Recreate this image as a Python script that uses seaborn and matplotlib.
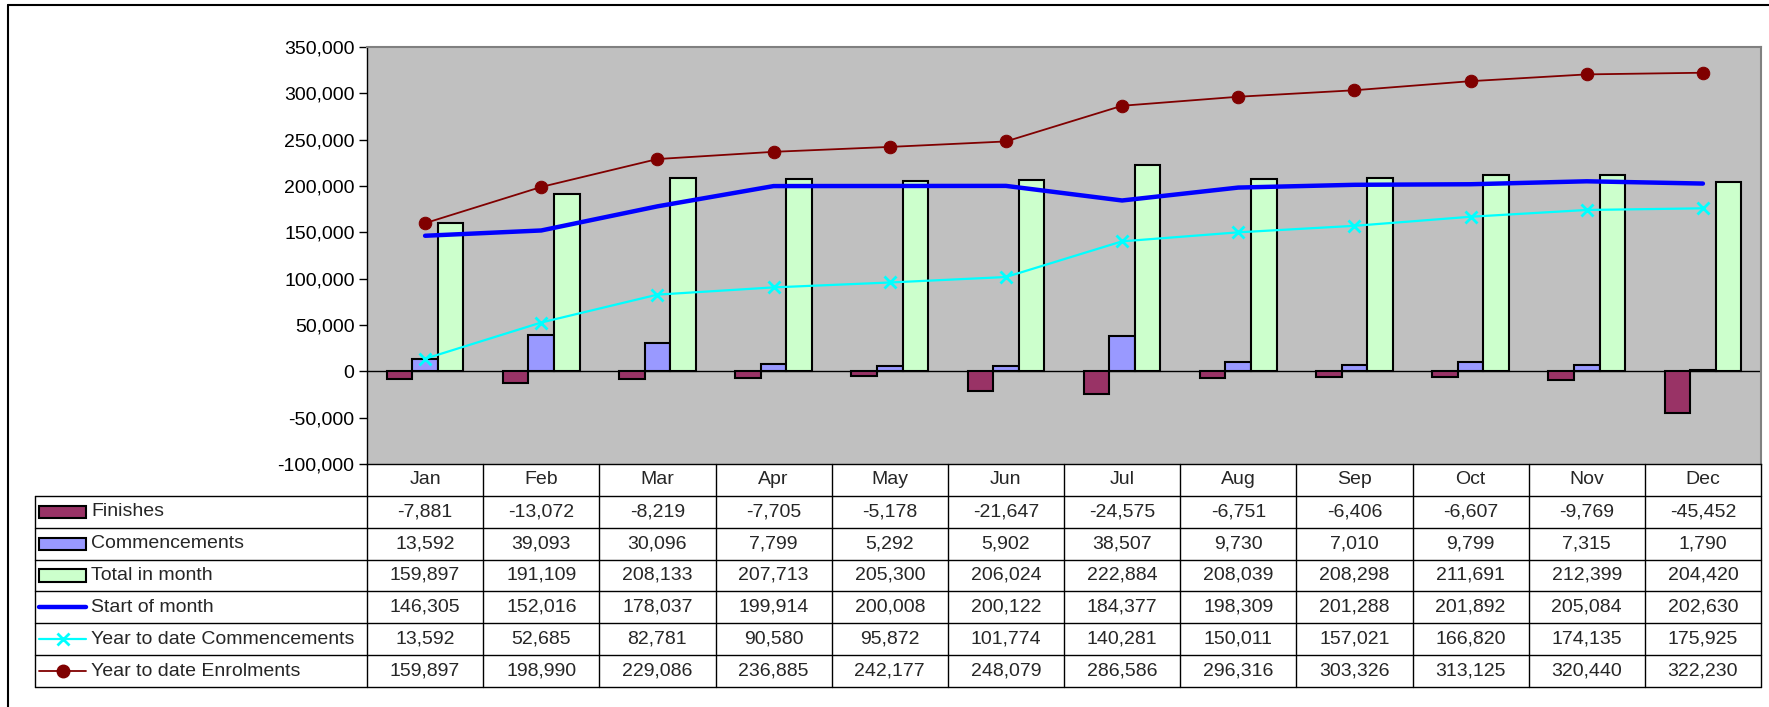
import matplotlib
matplotlib.use("Agg")
import matplotlib.pyplot as plt
import seaborn as sns
import numpy as np
import pandas as pd
from matplotlib.lines import Line2D
from matplotlib.patches import Rectangle
from matplotlib.ticker import FuncFormatter


# ------------------------------------------------
# DATA
# ------------------------------------------------

months = ["Jan", "Feb", "Mar", "Apr", "May", "Jun",
          "Jul", "Aug", "Sep", "Oct", "Nov", "Dec"]

finishes = [-7881, -13072, -8219, -7705, -5178, -21647,
            -24575, -6751, -6406, -6607, -9769, -45452]
commencements = [13592, 39093, 30096, 7799, 5292, 5902,
                 38507, 9730, 7010, 9799, 7315, 1790]
total_in_month = [159897, 191109, 208133, 207713, 205300, 206024,
                  222884, 208039, 208298, 211691, 212399, 204420]
start_of_month = [146305, 152016, 178037, 199914, 200008, 200122,
                  184377, 198309, 201288, 201892, 205084, 202630]
ytd_commencements = [13592, 52685, 82781, 90580, 95872, 101774,
                     140281, 150011, 157021, 166820, 174135, 175925]
ytd_enrolments = [159897, 198990, 229086, 236885, 242177, 248079,
                  286586, 296316, 303326, 313125, 320440, 322230]

bar_series = ["Finishes", "Commencements", "Total in month"]
bar_colors = ["#993366", "#9999FF", "#CCFFCC"]

y_ticks = [-100000, -50000, 0, 50000, 100000, 150000,
           200000, 250000, 300000, 350000]


# ------------------------------------------------
# STYLE
# ------------------------------------------------

sns.set_theme(style="white")
plt.rcParams["font.family"] = ["Liberation Sans", "DejaVu Sans"]
FS = 14

W, H = 1769, 707
fig = plt.figure(figsize=(W / 100, H / 100), dpi=100)

# pixel layout
PL, PR, PT, PB = 367, 1761, 47, 464
TL, TB = 35, 687

ax = fig.add_axes([PL / W, 1 - PB / H, (PR - PL) / W, (PB - PT) / H])
ax.set_facecolor("#C0C0C0")


# ------------------------------------------------
# BARS
# ------------------------------------------------

bars = pd.DataFrame({
    "month": months * 3,
    "series": np.repeat(bar_series, len(months)),
    "value": finishes + commencements + total_in_month,
})

sns.barplot(
    data=bars, x="month", y="value", hue="series",
    hue_order=bar_series, palette=bar_colors,
    width=0.66, gap=0, edgecolor="black", linewidth=1.5,
    saturation=1, legend=False, ax=ax, zorder=2
)

ax.axhline(0, color="black", linewidth=1, zorder=1.5)


# ------------------------------------------------
# LINES
# ------------------------------------------------

xpos = np.arange(len(months))

line_styles = [
    ("Start of month", start_of_month,
     dict(color="#0000FF", linewidth=3.2, marker=None)),
    ("Year to date Commencements", ytd_commencements,
     dict(color="#00FFFF", linewidth=1.6, marker="x",
          markersize=9, markeredgewidth=2,
          markeredgecolor="#00FFFF")),
    ("Year to date Enrolments", ytd_enrolments,
     dict(color="#800000", linewidth=1.3, marker="o",
          markersize=9, markeredgecolor="#800000")),
]

for name, vals, style in line_styles:
    sns.lineplot(x=xpos, y=vals, ax=ax, zorder=3, **style)

ax.set_xlim(-0.5, len(months) - 0.5)
ax.set_ylim(y_ticks[0], y_ticks[-1])
ax.set_yticks(y_ticks)
ax.yaxis.set_major_formatter(FuncFormatter(lambda v, p: f"{int(v):,}"))
ax.tick_params(axis="y", left=True, length=6, width=1, pad=3,
               labelsize=FS, colors="black")
ax.set_xticks([])
ax.set_xlabel("")
ax.set_ylabel("")

for side in ["left", "bottom"]:
    ax.spines[side].set_color("black")
    ax.spines[side].set_linewidth(1)
for side in ["top", "right"]:
    ax.spines[side].set_color("#808080")
    ax.spines[side].set_linewidth(1.5)


# ------------------------------------------------
# DATA TABLE
# ------------------------------------------------

unit = (PR - PL) / len(months)
label_w = (PL - TL) / unit
x_left = -0.5 - label_w

tax = fig.add_axes([TL / W, 1 - TB / H, (PR - TL) / W, (TB - PB) / H])
tax.set_xlim(x_left, len(months) - 0.5)
tax.set_ylim(7, 0)
tax.axis("off")

rows = [
    ("Finishes", finishes),
    ("Commencements", commencements),
    ("Total in month", total_in_month),
    ("Start of month", start_of_month),
    ("Year to date Commencements", ytd_commencements),
    ("Year to date Enrolments", ytd_enrolments),
]

lkw = dict(color="black", linewidth=1, clip_on=False)

# header row
for i, m in enumerate(months):
    tax.text(i, 0.5, m, ha="center", va="center", fontsize=FS)
for i in range(len(months) + 1):
    tax.plot([i - 0.5, i - 0.5], [0, 7], **lkw)
for r in range(1, 8):
    tax.plot([x_left, len(months) - 0.5], [r, r], **lkw)
tax.plot([x_left, x_left], [1, 7], **lkw)

key_x = x_left + 4 / unit
key_w = 47 / unit
text_x = x_left + 56 / unit

for r, (name, vals) in enumerate(rows, start=1):
    yc = r + 0.5
    for i, v in enumerate(vals):
        tax.text(i, yc, f"{v:,}", ha="center", va="center", fontsize=FS)
    tax.text(text_x, yc, name, ha="left", va="center", fontsize=FS)

    if r <= 3:
        tax.add_patch(Rectangle((key_x, yc - 0.19), key_w, 0.38,
                                facecolor=bar_colors[r - 1],
                                edgecolor="black", linewidth=1.5))
    else:
        style = dict(line_styles[r - 4][2])
        tax.plot([key_x, key_x + key_w], [yc, yc],
                 color=style["color"], linewidth=style["linewidth"])
        if style.get("marker"):
            tax.plot([key_x + key_w / 2], [yc], linestyle="none",
                     color=style["color"], marker=style["marker"],
                     markersize=style["markersize"],
                     markeredgewidth=style.get("markeredgewidth", 1))


# ------------------------------------------------
# CHART BORDER
# ------------------------------------------------

fig.add_artist(Line2D([8 / W, 8 / W], [0, 1 - 5 / H],
                      color="black", linewidth=1.5))
fig.add_artist(Line2D([8 / W, 1], [1 - 5 / H, 1 - 5 / H],
                      color="black", linewidth=1.5))

fig.savefig("out.png", dpi=100, facecolor="white")
